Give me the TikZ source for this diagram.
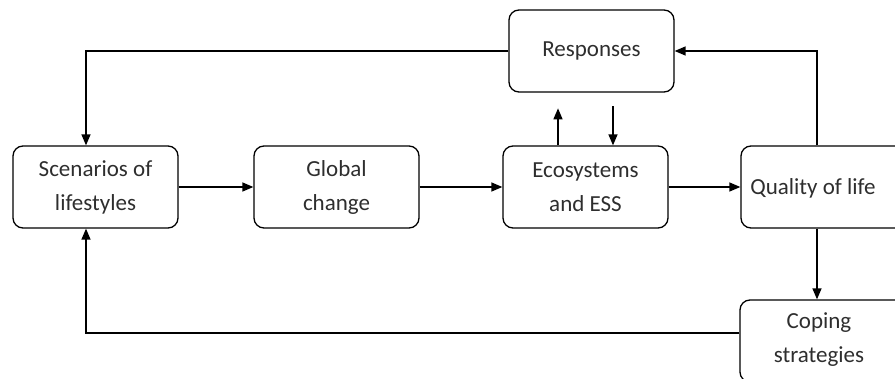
\documentclass[tikz,border=0pt]{standalone}
\usepackage{fontspec}
\setmainfont{Carlito}
\usetikzlibrary{arrows.meta}
\begin{document}
\begin{tikzpicture}[x=1pt,y=1pt,
 box/.style={draw, rounded corners=10pt, line width=1.3pt, minimum width=165pt, minimum height=82pt, inner sep=0pt},
 lbl/.style={text=black!82, font=\fontsize{23}{34}\selectfont, align=center},
 arr/.style={line width=1.4pt, -{Triangle[length=11pt,width=9pt]}}]
\useasboundingbox (0,0) rectangle (895,378);
\clip (0,0) rectangle (895,378);
\node[box] (scen) at (95.5,191) {};
\node[box] (glob) at (336.5,191) {};
\node[box] (eco) at (585.5,191) {};
\node[box] (qol) at (823.5,191) {};
\node[box] (resp) at (591.5,327) {};
\node[box] (cope) at (822.5,37) {};
\node[lbl] (tscen) at (scen.center) {Scenarios of\\lifestyles};
\node[lbl] (tglob) at (glob.center) {Global\\change};
\node[lbl] (teco) at (eco.center) {Ecosystems\\and ESS};
\node[lbl] (tqol) at (813,190) {Quality of life};
\node[lbl] (tresp) at (resp.center) {Responses};
\node[lbl] (tcope) at (819,38) {Coping\\strategies};
\draw[arr] (resp.west) -| ([xshift=-9.5]scen.north);
\draw[arr] (scen.east) -- (glob.west);
\draw[arr] (glob.east) -- (eco.west);
\draw[arr] (eco.east) -- (qol.west);
\draw[arr] ([xshift=-6.5]qol.north) |- (resp.east);
\draw[arr] ([xshift=-27.5]eco.north) -- ++(0,37);
\coordinate (d) at ([xshift=27.5,yshift=39]eco.north);
\draw[arr] (d) -- (d |- eco.north);
\coordinate (q) at ([xshift=-6.5]qol.south);
\draw[arr] (q) -- (q |- cope.north);
\draw[arr] ([yshift=8]cope.west) -| ([xshift=-9.5]scen.south);
\end{tikzpicture}
\end{document}
